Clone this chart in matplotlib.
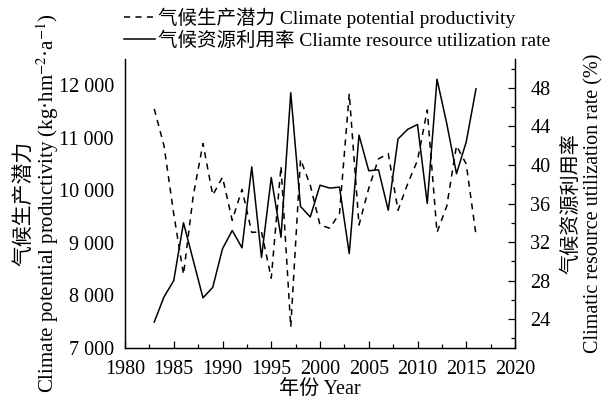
import matplotlib
matplotlib.use('Agg')
import matplotlib.pyplot as plt
from matplotlib.ticker import MultipleLocator, FuncFormatter
from matplotlib.lines import Line2D

plt.rcParams['font.family'] = ['Liberation Serif', 'Noto Sans CJK SC']
plt.rcParams['mathtext.fontset'] = 'stix'

years = list(range(1983, 2017))
potential = [11550, 10850, 9550, 8400, 9900, 10890, 9910, 10250, 9430, 10020,
             9200, 9210, 8330, 10460, 7400, 10590, 10100, 9340, 9280, 9560,
             11840, 9340, 10040, 10600, 10700, 9620, 10130, 10570, 11530, 9200,
             9700, 10850, 10500, 9150]
utilization = [23.7, 26.3, 28.0, 34.0, 30.1, 26.2, 27.3, 31.3, 33.2, 31.4,
               39.8, 30.4, 38.7, 32.5, 47.5, 35.7, 34.6, 37.9, 37.6, 37.7,
               30.8, 43.1, 39.4, 39.5, 35.3, 42.7, 43.7, 44.2, 36.0, 48.9,
               44.3, 39.1, 42.4, 47.9]

fs = 14.5

fig = plt.figure(figsize=(6.1, 4.03), dpi=100)
ax = fig.add_axes([125/610, 1 - 348/403, 390/610, 289/403])
ax2 = ax.twinx()

ax.plot(years, potential, color='black', lw=1.1, linestyle=(0, (4, 3.5)))
ax2.plot(years, utilization, color='black', lw=1.1)

ax.set_xlim(1980, 2020)
ax.set_ylim(7000, 12500)
ax2.set_ylim(21, 51)

ax.xaxis.set_major_locator(MultipleLocator(5))
ax.xaxis.set_minor_locator(MultipleLocator(2.5))
ax.yaxis.set_major_locator(MultipleLocator(1000))
ax.yaxis.set_major_formatter(FuncFormatter(lambda v, p: '{:,}'.format(int(v)).replace(',', ' ')))
ax2.yaxis.set_minor_locator(MultipleLocator(2))
ax2.set_yticks([24, 28, 32, 36, 40, 44, 48])

ax.tick_params(axis='x', which='major', direction='in', length=5, width=0.9, labelsize=fs, pad=9)
ax.tick_params(axis='x', which='minor', direction='in', length=3, width=0.9)
ax.tick_params(axis='y', which='both', length=0, labelsize=fs, pad=8)
ax2.tick_params(axis='y', which='major', direction='in', length=5, width=0.9, labelsize=fs, pad=11)
ax2.tick_params(axis='y', which='minor', direction='in', length=3, width=0.9)

for a in (ax, ax2):
    a.spines['top'].set_visible(False)
    for s in ('left', 'right', 'bottom'):
        a.spines[s].set_linewidth(0.9)

ax.set_xlabel('年份 Year', fontsize=fs, labelpad=0)
ax.set_ylabel('气候生产潜力\nClimate potential productivity (kg·hm$^{-2}$·a$^{-1}$)',
              fontsize=15, labelpad=-2, linespacing=1.05)
ax2.set_ylabel('气候资源利用率\nClimatic resource utilization rate (%)',
               fontsize=fs, labelpad=8, linespacing=1.2, rotation=90)

handles = [Line2D([], [], color='black', lw=1.1, linestyle=(0, (4, 3.5))),
           Line2D([], [], color='black', lw=1.1)]
labels = ['气候生产潜力 Climate potential productivity',
          '气候资源利用率 Cliamte resource utilization rate']
fig.legend(handles, labels, loc='upper left', bbox_to_anchor=(106/610, 1.025),
           frameon=False, fontsize=14, handlelength=1.6, handletextpad=0.15,
           labelspacing=0.2)

fig.savefig('out.png', dpi=100)
